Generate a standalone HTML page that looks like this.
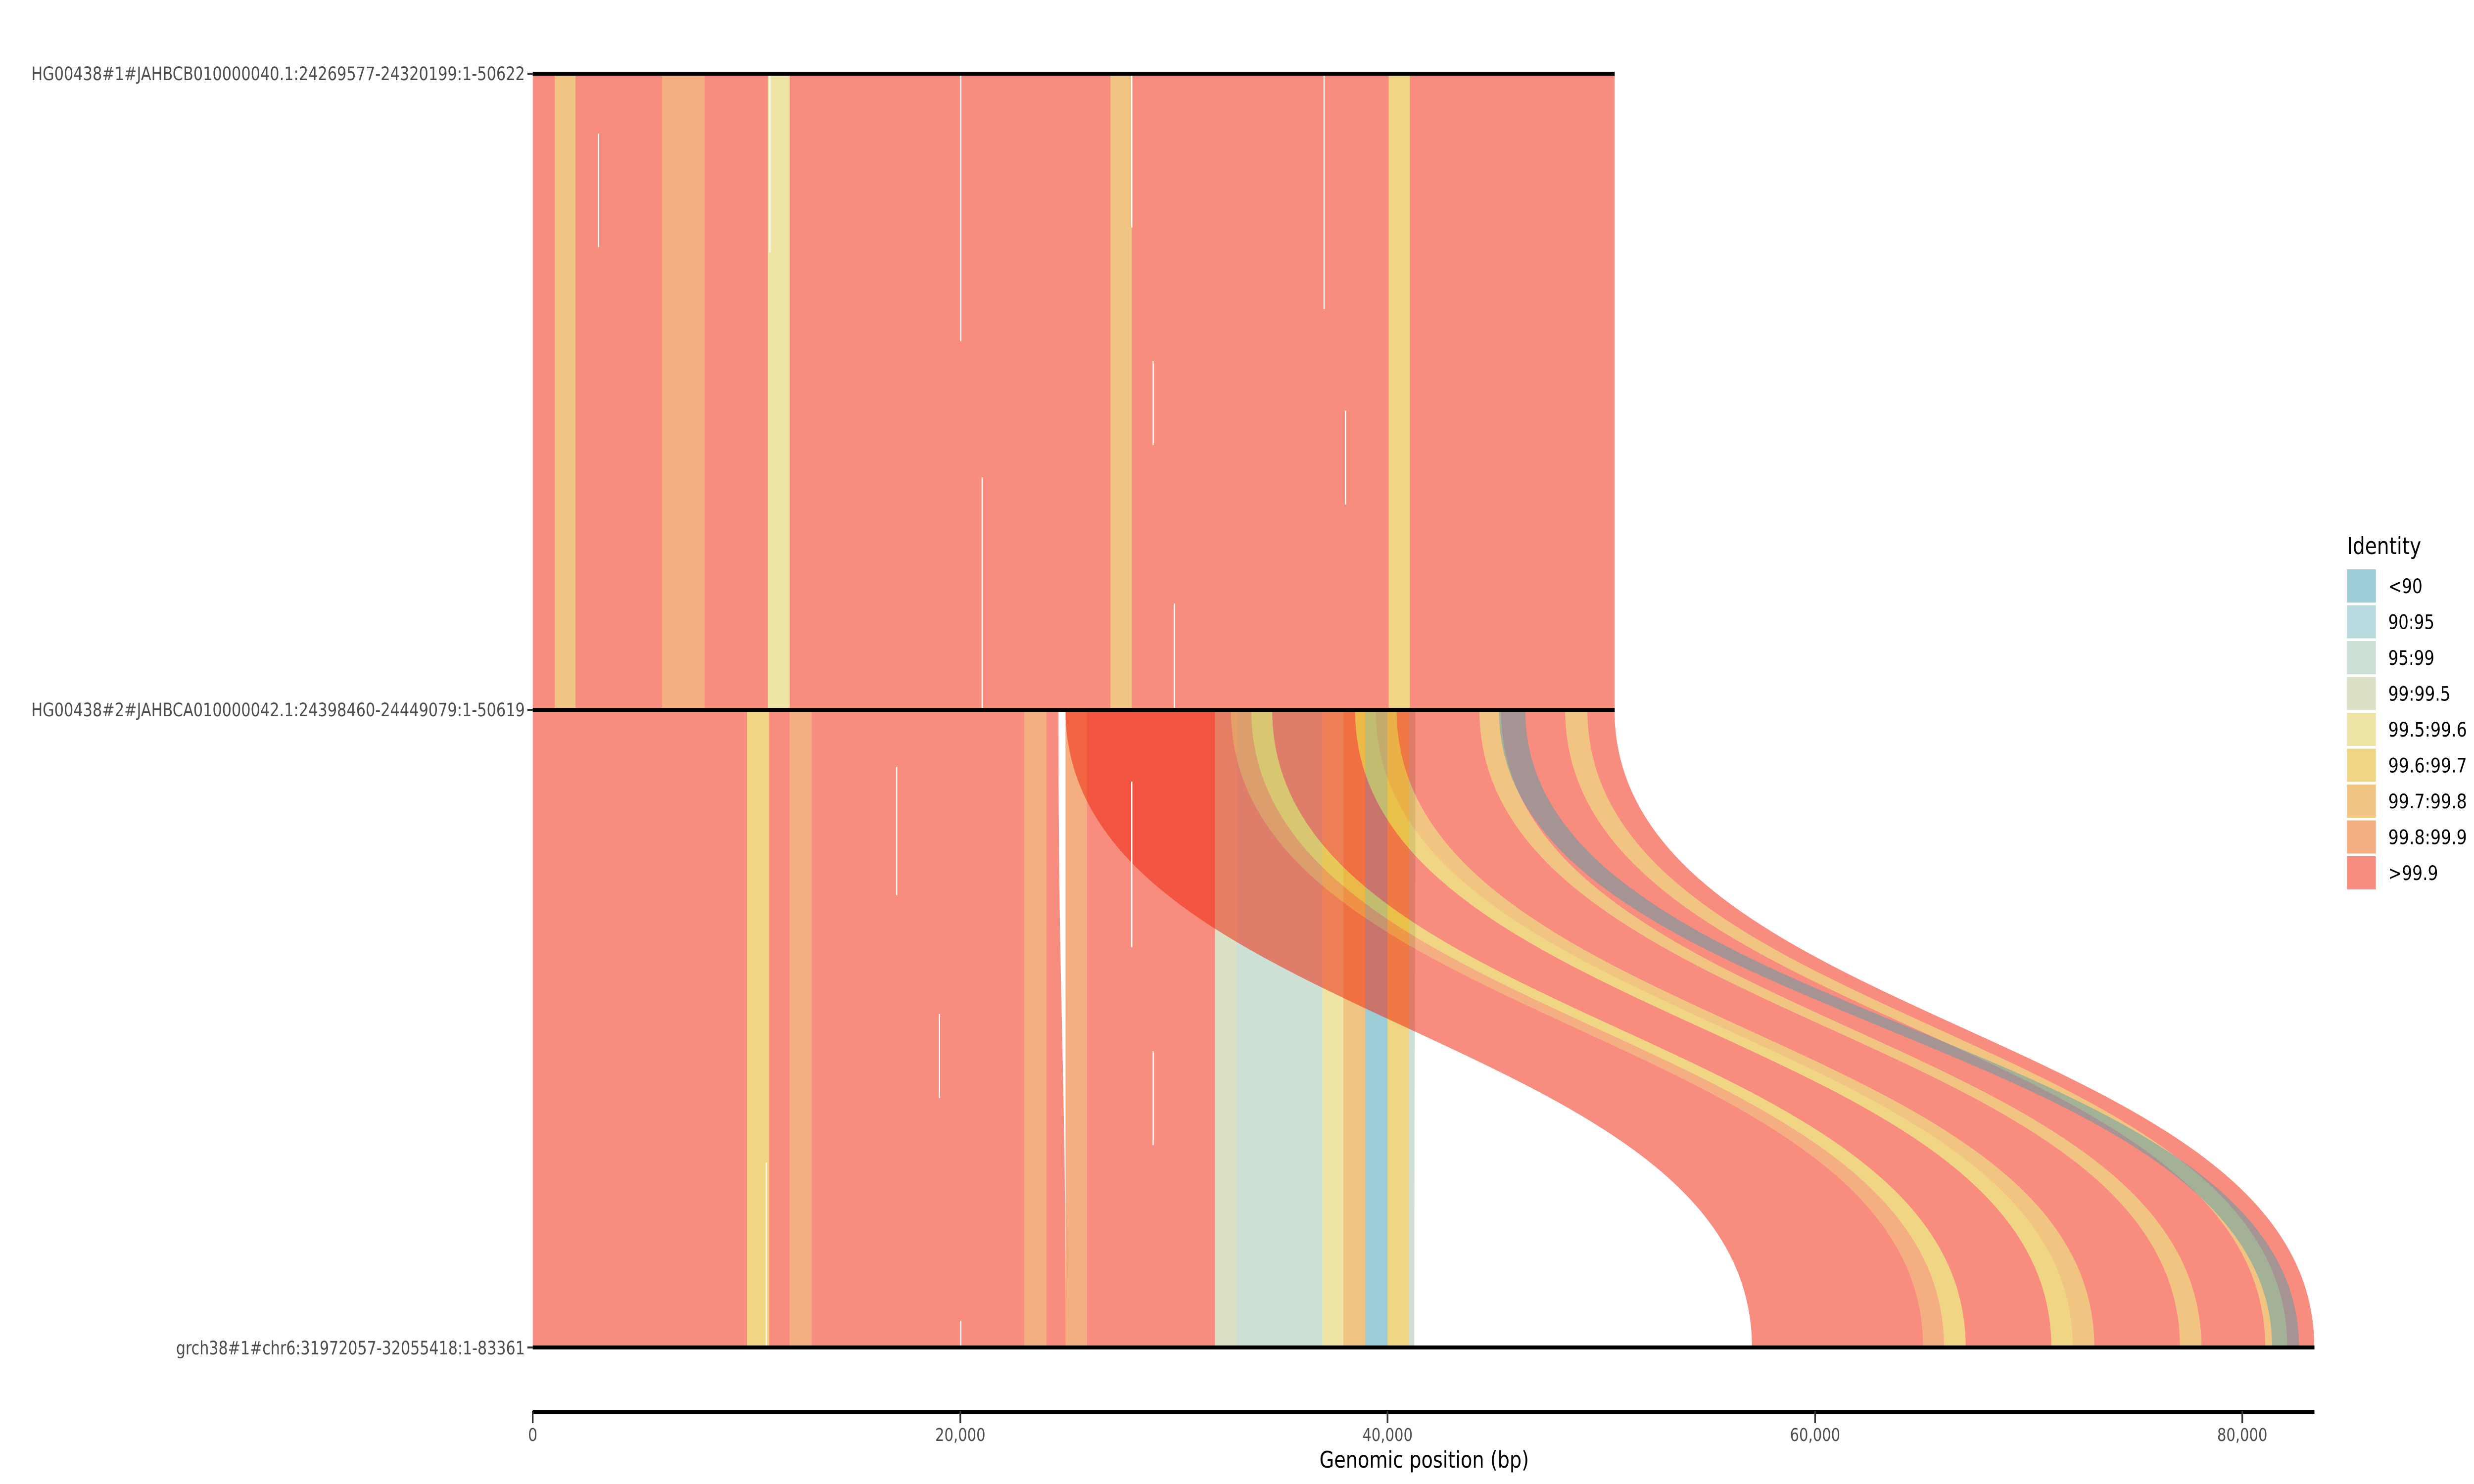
<!DOCTYPE html>
<html><head><meta charset="utf-8"><style>
html,body{margin:0;padding:0;background:#fff;width:100%;height:100%;overflow:hidden;}
svg{display:block;width:100vw;height:100vh;}
text{font-family:"DejaVu Sans","Liberation Sans",sans-serif;}
</style></head><body>
<svg id="s" viewBox="0 0 6000 3000" preserveAspectRatio="none" xmlns="http://www.w3.org/2000/svg">
<g id="g"></g>
<rect x="1292" y="145" width="2624" height="8" fill="#000"/>
<rect x="1292" y="1431" width="2624" height="8" fill="#000"/>
<rect x="1292" y="2720" width="4321" height="8" fill="#000"/>
<rect x="1279" y="147" width="13" height="4" fill="#333"/>
<rect x="1279" y="1433" width="13" height="4" fill="#333"/>
<rect x="1279" y="2722" width="13" height="4" fill="#333"/>
<g fill="#4d4d4d" font-size="37" text-anchor="end">
<text x="1273" y="162" textLength="1197" lengthAdjust="spacingAndGlyphs">HG00438#1#JAHBCB010000040.1:24269577-24320199:1-50622</text>
<text x="1273" y="1448" textLength="1197" lengthAdjust="spacingAndGlyphs">HG00438#2#JAHBCA010000042.1:24398460-24449079:1-50619</text>
<text x="1273" y="2738" textLength="846" lengthAdjust="spacingAndGlyphs">grch38#1#chr6:31972057-32055418:1-83361</text>
</g>
<rect x="1292" y="2850" width="4321" height="8" fill="#000"/>
<g fill="#333">
<rect x="1290" y="2852" width="4" height="25"/>
<rect x="2327" y="2852" width="4" height="25"/>
<rect x="3363" y="2852" width="4" height="25"/>
<rect x="4400" y="2852" width="4" height="25"/>
<rect x="5436" y="2852" width="4" height="25"/>
</g>
<g fill="#4d4d4d" font-size="36" text-anchor="middle">
<text x="1292" y="2913">0</text>
<text x="2329" y="2913" textLength="122" lengthAdjust="spacingAndGlyphs">20,000</text>
<text x="3365" y="2913" textLength="122" lengthAdjust="spacingAndGlyphs">40,000</text>
<text x="4402" y="2913" textLength="122" lengthAdjust="spacingAndGlyphs">60,000</text>
<text x="5438" y="2913" textLength="122" lengthAdjust="spacingAndGlyphs">80,000</text>
</g>
<text x="3454" y="2967" font-size="46" fill="#000" text-anchor="middle" textLength="508" lengthAdjust="spacingAndGlyphs">Genomic position (bp)</text>
<text x="5692" y="1120" font-size="47" fill="#000" textLength="180" lengthAdjust="spacingAndGlyphs">Identity</text>
<g id="leg"></g>
</svg>
<script>
var NS="http://www.w3.org/2000/svg";
var g=document.getElementById("g"), leg=document.getElementById("leg");
function X(bp){return 1292+bp*0.05183;}
var L={"<90":"#9DCBD6","90:95":"#B9DADE","95:99":"#CEDFD5","99:99.5":"#DBE1C5","99.5:99.6":"#EDE4A6","99.6:99.7":"#F0D585","99.7:99.8":"#F2C482","99.8:99.9":"#F5AD82",">99.9":"#F78C7F"};
var B={"<90":"rgb(67,155,176)","90:95":"rgb(120,184,191)","95:99":"rgb(161,193,174)","99:99.5":"rgb(186,197,144)","99.5:99.6":"rgb(220,203,84)","99.6:99.7":"rgb(226,174,20)","99.7:99.8":"rgb(230,141,15)","99.8:99.9":"rgb(236,97,15)",">99.9":"rgb(240,34,9)"};
function el(n,a,p){var e=document.createElementNS(NS,n);for(var k in a)e.setAttribute(k,a[k]);(p||g).appendChild(e);return e;}
function rib(ta,tb,ba,bb,y0,y1,fill,op){
 var x1=X(ta),x2=X(tb),x3=X(bb),x4=X(ba),ym=(y0+y1)/2;
 var d="M"+x1+" "+y0+"L"+x2+" "+y0+"C"+x2+" "+ym+","+x3+" "+ym+","+x3+" "+y1+"L"+x4+" "+y1+"C"+x4+" "+ym+","+x1+" "+ym+","+x1+" "+y0+"Z";
 el("path",{d:d,fill:fill,"fill-opacity":op});
}
var T0=149,T1=1435,U0=1435,U1=2724;
el("rect",{x:X(0),y:T0,width:X(50622)-X(0),height:T1-T0,fill:L[">99.9"]});
[[1030,2000,"99.7:99.8"],[6050,8040,"99.8:99.9"],[11000,12020,"99.5:99.6"],[27030,28030,"99.7:99.8"],[40050,41040,"99.6:99.7"]].forEach(function(b){
 el("rect",{x:X(b[0]),y:T0,width:X(b[1])-X(b[0]),height:T1-T0,fill:L[b[2]]});});
[[3050,270,500],[11070,149,510],[20000,149,690],[21000,965,1435],[28000,149,460],[29000,730,900],[30000,1220,1435],[37000,149,625],[38000,830,1020]].forEach(function(w){
 el("rect",{x:X(w[0]),y:w[1],width:3,height:w[2]-w[1],fill:"#fff"});});
var S=[[0,10030,"",">99.9"],[10030,11060,"","99.6:99.7"],[11060,12020,"",">99.9"],[12020,13050,"","99.8:99.9"],[13050,23000,"",">99.9"],[23000,24040,"","99.8:99.9"],[24930,25930,"","99.8:99.9"],[25930,31930,"",">99.9"],[31930,32930,"","99:99.5"],[32930,36950,"","95:99"],[36950,37930,"","99.5:99.6"],[37930,38950,"","99.7:99.8"],[38950,40000,"","<90"],[40000,41000,"","99.6:99.7"]];
S.forEach(function(s){rib(s[0],s[1],s[0],s[1],U0,U1,B[s[3]],0.52);});
rib(24040,24600,24040,24930,U0,U1,B[">99.9"],0.52);
rib(41000,41300,41000,41250,U0,U1,B["95:99"],0.52);
var A=[[57050,24930],[77080,44300],[81070,48310],[83361,50619]];
function inv(gp){for(var i=0;i<A.length-1;i++){if(gp<=A[i+1][0]){var f=(gp-A[i][0])/(A[i+1][0]-A[i][0]);return A[i][1]+f*(A[i+1][1]-A[i][1]);}}return A[A.length-1][1];}
var M=[[57050,65060,">99.9"],[65060,66040,"99.8:99.9"],[66040,67050,"99.6:99.7"],[67050,71060,">99.9"],[71060,72060,"99.6:99.7"],[72060,73070,"99.7:99.8"],[73070,77080,">99.9"],[77080,78080,"99.7:99.8"],[78080,81070,">99.9"],[81070,82100,"99.7:99.8"],[82100,83361,">99.9"]];
M.forEach(function(m){rib(inv(m[0]),inv(m[1]),m[0],m[1],U0,U1,B[m[2]],0.52);});
rib(45210,46440,81390,82650,U0,U1,B["<90"],0.45);
[[17000,1550,1810],[19000,2050,2220],[20000,2670,2724],[28000,1580,1915],[29000,2125,2315],[10900,2350,2724]].forEach(function(w){
 el("rect",{x:X(w[0]),y:w[1],width:3,height:w[2]-w[1],fill:"#fff"});});
var keys=[["<90",83],["90:95",112],["95:99",112],["99:99.5",151],["99.5:99.6",191],["99.6:99.7",191],["99.7:99.8",191],["99.8:99.9",191],[">99.9",121]];
keys.forEach(function(k,i){
 var y=1151+i*72.5;
 el("rect",{x:5692,y:y,width:70,height:67,fill:L[k[0]]},leg);
 var t=el("text",{x:5792,y:y+48,"font-size":"40",fill:"#000",textLength:k[1],lengthAdjust:"spacingAndGlyphs"},leg);
 t.textContent=k[0];
});
</script>
</body></html>
